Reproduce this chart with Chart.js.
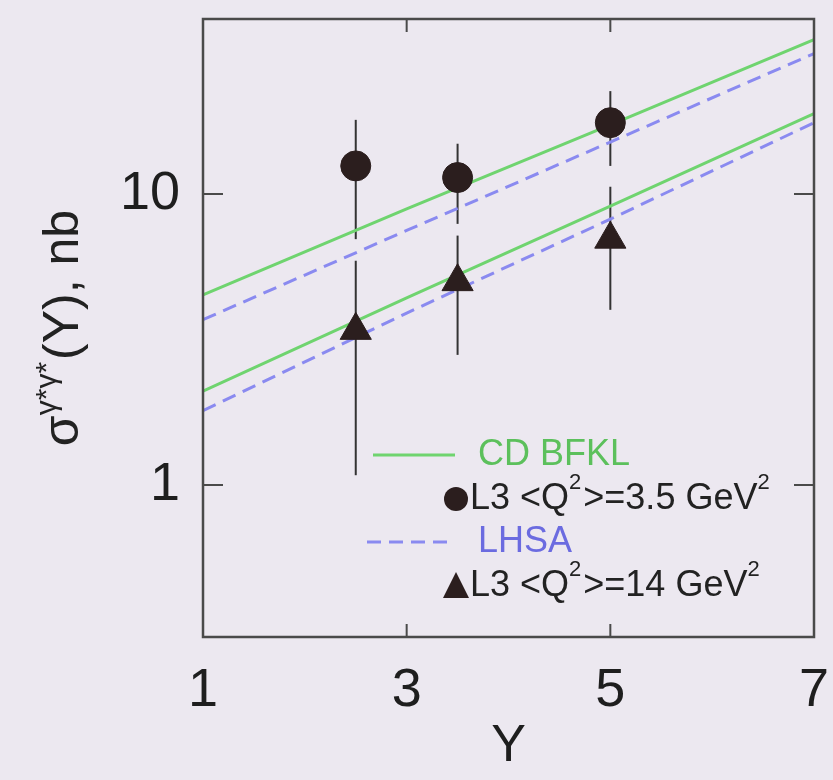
<!DOCTYPE html>
<html>
<head>
<meta charset="utf-8">
<script src="https://cdn.jsdelivr.net/npm/chart.js@4.4.0/dist/chart.umd.min.js"></script>
<style>
  html, body { margin: 0; padding: 0; background: #ece8f0; }
  #wrap { width: 833px; height: 780px; }
</style>
</head>
<body>
<div id="wrap"><canvas id="chart" width="833" height="780"></canvas></div>
<script>
// L3 data points (Y = rapidity), values in nb
const xPoints = [2.5, 3.5, 5];
const l3LowQ = [12.5, 11.4, 17.6];
const l3LowQErrLo = [7.0, 7.9, 12.5];
const l3LowQErrHi = [18.0, 14.9, 22.6];
const l3HighQ = [3.4, 5.0, 7.0];
const l3HighQErrLo = [1.08, 2.8, 4.0];
const l3HighQErrHi = [5.9, 7.2, 10.6];

// model curves
const modelX = [1, 3, 5, 7];
const bfklUpper = [4.5, 8.9, 17.3, 34];
const lhsaUpper = [3.7, 7.5, 15.1, 30.4];
const bfklLower = [2.1, 4.4, 9.1, 18.9];
const lhsaLower = [1.8, 3.9, 8.2, 17.6];

// axes
const xTickLabels = [1, 3, 5, 7];
const yTickLabels = [1, 10];

// legend text, split in [text, superscript] pieces
const legendBfkl = [['CD BFKL', false]];
const legendLowQ = [['L3 <Q', false], ['2', true], ['>=3.5 GeV', false], ['2', true]];
const legendLhsa = [['LHSA', false]];
const legendHighQ = [['L3 <Q', false], ['2', true], ['>=14 GeV', false], ['2', true]];
const yTitle = [['σ', false], ['γ*γ*', true], ['(Y), nb', false]];

const GREEN = '#6fd46f';
const GREEN_TEXT = '#5cc05c';
const BLUE = '#8a8af0';
const BLUE_TEXT = '#6b6be0';
const INK = '#2b1e1e';
const FONT = '"Liberation Sans", Arial, sans-serif';

const pts = (xs, ys) => xs.map((x, i) => ({ x: x, y: ys[i] }));

// vertical error bars as two-point line datasets
const errorBars = [];
xPoints.forEach((x, i) => {
    [[l3LowQErrLo[i], l3LowQErrHi[i]], [l3HighQErrLo[i], l3HighQErrHi[i]]].forEach(([lo, hi]) => {
        errorBars.push({
            data: [{ x: x, y: lo }, { x: x, y: hi }],
            showLine: true,
            borderColor: '#333',
            borderWidth: 2,
            pointRadius: 0,
            order: 3
        });
    });
});

function modelLine(ys, color, dash) {
    return {
        data: pts(modelX, ys),
        showLine: true,
        borderColor: color,
        borderWidth: 3,
        borderDash: dash,
        pointRadius: 0,
        order: 2
    };
}

// draw mixed normal / superscript text from x, returns end x
function drawPieces(ctx, pieces, x, y, size, color, measureOnly) {
    let cx = x;
    pieces.forEach(([txt, sup]) => {
        const s = sup ? Math.round(size * 0.6) : size;
        ctx.font = s + 'px ' + FONT;
        if (!measureOnly) {
            ctx.fillStyle = color;
            ctx.fillText(txt, cx, sup ? y - size * 0.45 : y);
        }
        cx += ctx.measureText(txt).width + (sup ? 2 : 0);
    });
    return cx;
}

const background = {
    id: 'background',
    beforeDraw(chart) {
        const ctx = chart.ctx;
        ctx.save();
        ctx.fillStyle = '#ece8f0';
        ctx.fillRect(0, 0, chart.width, chart.height);
        ctx.restore();
    }
};

// inward ticks on all four sides + frame
const frameTicks = {
    id: 'frameTicks',
    afterDatasetsDraw(chart) {
        const { ctx, chartArea: a, scales: { x, y } } = chart;
        ctx.save();
        ctx.strokeStyle = '#4a4a4a';
        ctx.lineWidth = 2;
        ctx.beginPath();
        x.ticks.forEach(t => {
            const px = x.getPixelForValue(t.value);
            ctx.moveTo(px, a.bottom); ctx.lineTo(px, a.bottom - 13);
            ctx.moveTo(px, a.top); ctx.lineTo(px, a.top + 13);
        });
        y.ticks.forEach(t => {
            const py = y.getPixelForValue(t.value);
            const lg = Math.log10(t.value);
            const len = Math.abs(lg - Math.round(lg)) < 1e-6 ? 20 : 10;
            ctx.moveTo(a.left, py); ctx.lineTo(a.left + len, py);
            ctx.moveTo(a.right, py); ctx.lineTo(a.right - len, py);
        });
        ctx.stroke();
        ctx.lineWidth = 2.5;
        ctx.strokeRect(a.left, a.top, a.width, a.height);
        ctx.restore();
    }
};

const yAxisTitle = {
    id: 'yAxisTitle',
    afterDraw(chart) {
        const { ctx, chartArea: a } = chart;
        ctx.save();
        ctx.translate(78, (a.top + a.bottom) / 2);
        ctx.rotate(-Math.PI / 2);
        ctx.textBaseline = 'alphabetic';
        ctx.textAlign = 'left';
        const w = drawPieces(ctx, yTitle, 0, 0, 50, '#222', true);
        drawPieces(ctx, yTitle, -w / 2, 0, 50, '#222', false);
        ctx.restore();
    }
};

const customLegend = {
    id: 'customLegend',
    afterDraw(chart) {
        const ctx = chart.ctx;
        const size = 36;
        ctx.save();
        ctx.textBaseline = 'middle';
        ctx.textAlign = 'left';

        // CD BFKL
        ctx.strokeStyle = GREEN; ctx.lineWidth = 3;
        ctx.beginPath(); ctx.moveTo(373, 455); ctx.lineTo(455, 455); ctx.stroke();
        drawPieces(ctx, legendBfkl, 478, 455, size, GREEN_TEXT, false);

        // L3 3.5 GeV2
        ctx.fillStyle = INK;
        ctx.beginPath(); ctx.arc(456, 499, 12, 0, Math.PI * 2); ctx.fill();
        drawPieces(ctx, legendLowQ, 470, 499, size, '#222', false);

        // LHSA
        ctx.strokeStyle = BLUE; ctx.setLineDash([14, 8]);
        ctx.beginPath(); ctx.moveTo(367, 542); ctx.lineTo(452, 542); ctx.stroke();
        ctx.setLineDash([]);
        drawPieces(ctx, legendLhsa, 478, 542, size, BLUE_TEXT, false);

        // L3 14 GeV2
        ctx.fillStyle = INK;
        ctx.beginPath();
        ctx.moveTo(456, 572); ctx.lineTo(469, 598); ctx.lineTo(443, 598);
        ctx.closePath(); ctx.fill();
        drawPieces(ctx, legendHighQ, 470, 586, size, '#222', false);

        ctx.restore();
    }
};

new Chart(document.getElementById('chart'), {
    type: 'scatter',
    data: {
        datasets: [
            {
                data: pts(xPoints, l3LowQ),
                pointStyle: 'circle',
                pointRadius: 15,
                backgroundColor: INK,
                borderColor: INK,
                order: 0
            },
            {
                data: pts(xPoints, l3HighQ),
                pointStyle: 'triangle',
                pointRadius: 18,
                backgroundColor: INK,
                borderColor: INK,
                order: 0
            },
            modelLine(bfklUpper, GREEN, []),
            modelLine(lhsaUpper, BLUE, [14, 8]),
            modelLine(bfklLower, GREEN, []),
            modelLine(lhsaLower, BLUE, [14, 8]),
            ...errorBars
        ]
    },
    options: {
        responsive: false,
        animation: false,
        layout: { padding: { top: 9, right: 17, left: 0, bottom: 0 } },
        plugins: {
            legend: { display: false },
            tooltip: { enabled: false }
        },
        scales: {
            x: {
                type: 'linear',
                min: 1,
                max: 7,
                grid: { display: false, drawTicks: false },
                border: { display: false },
                ticks: {
                    stepSize: 1,
                    autoSkip: false,
                    maxRotation: 0,
                    padding: 22,
                    color: '#1e1e1e',
                    font: { family: FONT, size: 54 },
                    callback: v => xTickLabels.includes(v) ? String(v) : null
                },
                title: {
                    display: true,
                    text: 'Y',
                    color: '#1e1e1e',
                    font: { family: FONT, size: 52 },
                    padding: { top: 0, bottom: 2 }
                },
                afterFit: s => {
                    s.height = 143;
                    s.paddingLeft = 0; s.paddingRight = 0;
                }
            },
            y: {
                type: 'logarithmic',
                min: 0.3,
                max: 40,
                grid: { display: false, drawTicks: false },
                border: { display: false },
                ticks: {
                    autoSkip: false,
                    padding: 23,
                    color: '#1e1e1e',
                    font: { family: FONT, size: 54 },
                    callback: v => yTickLabels.includes(v) ? String(v) : null
                },
                afterFit: s => {
                    s.width = 203;
                    s.paddingTop = 0; s.paddingBottom = 0;
                }
            }
        }
    },
    plugins: [background, frameTicks, yAxisTitle, customLegend]
});
</script>
</body>
</html>
